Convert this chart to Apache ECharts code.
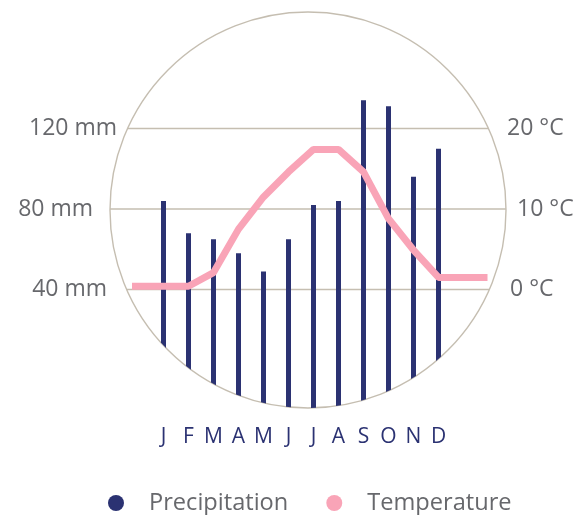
<!DOCTYPE html>
<html>
<head>
<meta charset="utf-8">
<script src="https://cdn.jsdelivr.net/npm/echarts@6/dist/echarts.min.js"></script>
<style>
  html, body { margin: 0; padding: 0; background: #ffffff; }
  #chart { width: 584px; height: 515px; }
</style>
</head>
<body>
<div id="chart"></div>
<script>
// ---- data ----
const months = ['J', 'F', 'M', 'A', 'M', 'J', 'J', 'A', 'S', 'O', 'N', 'D'];
const precipitation = [84, 68, 65, 58, 49, 65, 82, 84, 134, 131, 96, 110]; // mm
const temperature = [0.4, 0.4, 2.1, 7.5, 11.5, 14.6, 17.4, 17.4, 14.6, 8.8, 4.9, 1.5]; // °C
const precipTicks = [40, 80, 120];
const tempTicks = [0, 10, 20];
// temperature line lead-in / lead-out (in month units)
const tempLeadIn = -0.76;
const tempLeadOut = 13.46;

// ---- style / layout ----
const NAVY = '#2b3272';
const PINK = '#f9a4b7';
const RING = '#c5beb1';
const GREY = '#67686c';
const FONT = '"Open Sans", Roboto, sans-serif';
const CX = 308, CY = 210, R = 198;
const BAR_W = 5;
const GRID_LEFT = 151, GRID_W = 300, GRID_TOP = 48, GRID_BOTTOM = 145;
const MONTH_PX = GRID_W / months.length;

const chart = echarts.init(document.getElementById('chart'), null, { renderer: 'canvas' });

function circleBottom(x) {
  const d = R * R - (x - CX) * (x - CX);
  return CY + Math.sqrt(Math.max(d, 0));
}

const tempData = [[tempLeadIn, temperature[0]]]
  .concat(temperature.map((t, i) => [i + 0.5, t]))
  .concat([[tempLeadOut, temperature[temperature.length - 1]]]);

const leftRich = {
  l40: { fontFamily: FONT, fontSize: 23, color: GREY, padding: [0, 10, 0, 0] },
  l80: { fontFamily: FONT, fontSize: 23, color: GREY, padding: [0, 24, 0, 0] },
  l120: { fontFamily: FONT, fontSize: 23, color: GREY, padding: [0, 0, 0, 0] }
};
const rightRich = {
  r0: { fontFamily: FONT, fontSize: 23, color: GREY, padding: [0, 0, 0, 3] },
  r10: { fontFamily: FONT, fontSize: 23, color: GREY, padding: [0, 0, 0, 10] },
  r20: { fontFamily: FONT, fontSize: 23, color: GREY, padding: [0, 0, 0, 0] }
};

const lineGridLeft = GRID_LEFT + tempLeadIn * MONTH_PX;
const lineGridRight = GRID_LEFT + tempLeadOut * MONTH_PX;

const option = {
  backgroundColor: '#ffffff',
  animation: false,
  grid: [
    { left: GRID_LEFT, width: GRID_W, top: GRID_TOP, bottom: GRID_BOTTOM },
    { left: lineGridLeft, width: lineGridRight - lineGridLeft, top: GRID_TOP, bottom: GRID_BOTTOM }
  ],
  graphic: [{
    type: 'circle',
    z: 0,
    shape: { cx: CX, cy: CY, r: R },
    style: { fill: 'none', stroke: RING, lineWidth: 1.4 }
  }],
  legend: {
    left: 108,
    top: 491,
    padding: 0,
    itemWidth: 16,
    itemHeight: 16,
    itemGap: 38,
    icon: 'circle',
    data: [
      { name: 'Precipitation', itemStyle: { color: NAVY } },
      { name: 'Temperature', itemStyle: { color: PINK } }
    ],
    formatter: name => '{t|' + name + '}',
    textStyle: {
      rich: { t: { fontFamily: FONT, fontSize: 23.6, color: GREY, padding: [0, 0, 0, 20], lineHeight: 24 } }
    }
  },
  xAxis: [{
    type: 'category',
    gridIndex: 0,
    data: months,
    boundaryGap: true,
    axisLine: { show: false },
    axisTick: { show: false },
    splitLine: { show: false },
    axisLabel: {
      interval: 0,
      margin: 57,
      fontFamily: FONT,
      fontSize: 21,
      lineHeight: 20,
      color: NAVY
    }
  }, {
    type: 'value',
    gridIndex: 1,
    min: tempLeadIn,
    max: tempLeadOut,
    show: false
  }],
  yAxis: [{
    type: 'value',
    gridIndex: 0,
    min: 0,
    max: 160,
    interval: 40,
    axisLine: { show: false },
    axisTick: { show: false },
    splitLine: { show: false },
    axisLabel: {
      margin: 34,
      formatter: v => precipTicks.indexOf(v) >= 0 ? '{l' + v + '|' + v + ' mm}' : '',
      rich: leftRich
    }
  }, {
    type: 'value',
    gridIndex: 0,
    min: -10,
    max: 30,
    interval: 10,
    position: 'right',
    axisLine: { show: false },
    axisTick: { show: false },
    splitLine: { show: false },
    axisLabel: {
      margin: 56,
      formatter: v => tempTicks.indexOf(v) >= 0 ? '{r' + v + '|' + v + ' °C}' : '',
      rich: rightRich
    }
  }, {
    type: 'value',
    gridIndex: 1,
    min: -10,
    max: 30,
    show: false
  }],
  series: [{
    // grid lines clipped to the circle
    type: 'custom',
    name: 'grid',
    silent: true,
    z: 1,
    xAxisIndex: 0,
    yAxisIndex: 0,
    data: precipTicks.map(v => [0, v]),
    renderItem: (params, api) => {
      const y = api.coord([0, api.value(1)])[1];
      const dx = Math.sqrt(Math.max(R * R - (y - CY) * (y - CY), 0));
      return {
        type: 'line',
        shape: { x1: CX - dx, y1: y, x2: CX + dx, y2: y },
        style: { stroke: RING, lineWidth: 1.3 }
      };
    }
  }, {
    type: 'custom',
    name: 'Precipitation',
    z: 2,
    xAxisIndex: 0,
    yAxisIndex: 0,
    itemStyle: { color: NAVY },
    data: precipitation.map((v, i) => [i, v]),
    renderItem: (params, api) => {
      const p = api.coord([api.value(0), api.value(1)]);
      const xl = p[0] - BAR_W / 2, xr = p[0] + BAR_W / 2;
      return {
        type: 'polygon',
        shape: { points: [[xl, p[1]], [xr, p[1]], [xr, circleBottom(xr)], [xl, circleBottom(xl)]] },
        style: { fill: NAVY }
      };
    }
  }, {
    type: 'line',
    name: 'Temperature',
    z: 3,
    xAxisIndex: 1,
    yAxisIndex: 2,
    clip: false,
    symbol: 'none',
    data: tempData,
    itemStyle: { color: PINK },
    lineStyle: { color: PINK, width: 7, cap: 'butt' }
  }]
};

chart.setOption(option);
</script>
</body>
</html>
